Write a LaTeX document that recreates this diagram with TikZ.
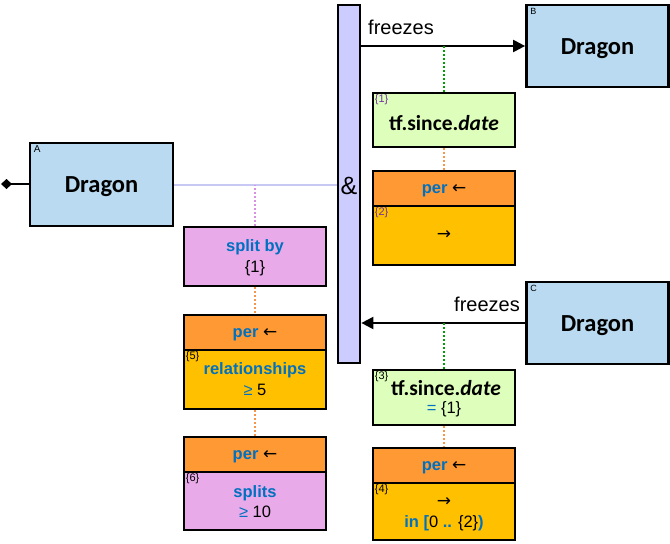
\documentclass[tikz,border=0pt]{standalone}
\usepackage{fontspec}
\setmainfont{Liberation Sans}
\newfontfamily\carl{Carlito}
\newfontfamily\djv{DejaVu Sans}
\usetikzlibrary{arrows.meta}
\definecolor{dblue}{HTML}{B9DAF0}
\definecolor{barc}{HTML}{CCCCFF}
\definecolor{pinkc}{HTML}{E8AAE8}
\definecolor{orangec}{HTML}{FF9933}
\definecolor{goldc}{HTML}{FFC000}
\definecolor{greenc}{HTML}{DDFFBB}
\definecolor{txtblue}{RGB}{0,112,192}
\definecolor{purp}{HTML}{7030A0}
\definecolor{lav}{HTML}{C8C8F4}
\definecolor{viol}{HTML}{D890E0}
\definecolor{gdot}{HTML}{00A000}
\definecolor{odot}{HTML}{F79646}
\newcommand\myla{{\djv\fontsize{17}{20}\selectfont ←}}
\newcommand\myra{{\djv\fontsize{17}{20}\selectfont →}}
\newcommand\lowr[2]{\raisebox{-#1}[\height][\depth]{#2}}
\tikzset{
  x=1pt,y=-1pt,
  box/.style={draw=black,line width=2.7pt,rectangle,inner sep=0pt,minimum width=142pt,align=center},
  dragon/.style={box,fill=dblue,minimum width=142pt,minimum height=82pt,font=\carl\bfseries\fontsize{24.5}{28}\selectfont},
  hdr/.style={box,fill=orangec,minimum height=35pt,font=\fontsize{16.5}{19}\selectfont},
  small/.style={anchor=north west,inner sep=0pt,font=\fontsize{10}{12}\selectfont},
  tx/.style={inner sep=0pt,font=\fontsize{16.5}{19}\selectfont},
  dotline/.style={line width=2pt,dash pattern=on 2pt off 2pt},
  arr/.style={line width=2pt,-{Triangle[length=12pt,width=12pt]}},
}
\begin{document}
\begin{tikzpicture}
\useasboundingbox (0,0) rectangle (670,544);
% bar
\node[box,fill=barc,minimum width=22pt,minimum height=358pt] (bar) at (349,184) {};
\node[inner sep=0pt,font=\fontsize{25}{28}\selectfont] (amp) at (349,186) {\&};
% dragons
\node[dragon,minimum width=143pt,minimum height=83pt] (A) at (101.5,184.5) {\lowr{2pt}{Dragon}};
\node[small] (Al) at ([xshift=5pt,yshift=-4pt]A.north west) {A};
\node[dragon] (B) at (597.5,46) {\lowr{3pt}{Dragon}};
\node[small,font=\fontsize{9}{11}\selectfont] (Bl) at ([xshift=5pt,yshift=-4pt]B.north west) {B};
\node[dragon] (C) at (597.5,323) {\lowr{3pt}{Dragon}};
\node[small,font=\fontsize{9}{11}\selectfont] (Cl) at ([xshift=5pt,yshift=-4pt]C.north west) {C};
% diamond on A
\coordinate (dm) at (1,184);
\draw[line width=2pt,{Diamond[length=11pt,width=10pt]}-] (dm) -- (A.west |- dm);
% left column
\node[box,fill=pinkc,minimum height=59pt] (split) at (255,256.5) {};
\node[tx,font=\bfseries\fontsize{16.5}{19}\selectfont,text=txtblue] (splitt) at ([yshift=9pt]split.center) {split by};
\node[tx] (split1) at ([yshift=-12pt]split.center) {\{1\}};
\node[hdr] (pl1) at (255,332.5) {\lowr{2pt}{\textbf{\color{txtblue}per} \myla}};
\node[box,fill=goldc,minimum height=59pt] (ll1) at (255,379.5) {};
\node[tx,font=\bfseries\fontsize{16.5}{19}\selectfont,text=txtblue] (ll1a) at ([yshift=9.5pt]ll1.center) {relationships};
\node[tx] (ll1b) at ([yshift=-10.5pt]ll1.center) {{\color{txtblue}≥} 5};
\node[small,font=\fontsize{11}{12}\selectfont] (l5) at ([xshift=3pt,yshift=-3pt]ll1.north west) {\{5\}};
\node[hdr] (pl2) at (255,454.5) {\lowr{2pt}{\textbf{\color{txtblue}per} \myla}};
\node[box,fill=pinkc,minimum height=58pt] (ll2) at (255,501) {};
\node[tx,font=\bfseries\fontsize{16.5}{19}\selectfont,text=txtblue] (ll2a) at ([yshift=8pt]ll2.center) {splits};
\node[tx] (ll2b) at ([yshift=-10.5pt]ll2.center) {{\color{txtblue}≥} 10};
\node[small,font=\fontsize{11}{12}\selectfont] (l6) at ([xshift=3pt,yshift=-3pt]ll2.north west) {\{6\}};
% right column top
\node[box,fill=greenc,minimum height=54pt,font=\carl\bfseries\fontsize{21.5}{24}\selectfont] (tf1) at (444,120) {\lowr{3pt}{tf.since.\textit{date}}};
\node[small,text=purp,font=\fontsize{11}{12}\selectfont] (l1) at ([xshift=3pt,yshift=-3pt]tf1.north west) {\{1\}};
\node[hdr] (pr1) at (444,188.5) {\lowr{2pt}{\textbf{\color{txtblue}per} \myla}};
\node[box,fill=goldc,minimum height=59pt] (lr1) at (444,235.5) {\myra};
\node[small,text=purp,font=\fontsize{11}{12}\selectfont] (l2) at ([xshift=3pt,yshift=-3pt]lr1.north west) {\{2\}};
% right column bottom
\node[box,fill=greenc,minimum height=55pt] (tf2) at (444,397.5) {};
\node[tx,font=\carl\bfseries\fontsize{21.5}{24}\selectfont] (tf2a) at ([yshift=9.5pt,xshift=2pt]tf2.center) {tf.since.\textit{date}};
\node[tx] (tf2b) at ([yshift=-12pt]tf2.center) {{\color{txtblue}=} \{1\}};
\node[small,font=\fontsize{11}{12}\selectfont] (l3) at ([xshift=3pt,yshift=-3pt]tf2.north west) {\{3\}};
\node[hdr] (pr2) at (444,465.5) {\lowr{2pt}{\textbf{\color{txtblue}per} \myla}};
\node[box,fill=goldc,minimum height=57pt] (lr2) at (444,511.5) {};
\node[tx] (lr2a) at ([yshift=9.5pt]lr2.center) {\myra};
\node[tx] (lr2b) at ([yshift=-11.5pt]lr2.center) {\textbf{\color{txtblue}in [}0 \textbf{\color{txtblue}..} \{2\}\textbf{\color{txtblue})}};
\node[small,font=\fontsize{11}{12}\selectfont] (l4) at ([xshift=3pt,yshift=-3pt]lr2.north west) {\{4\}};
% connectors
\draw[lav,line width=2pt] (A.east) -- (A.east -| bar.west);
\draw[viol,dotline] (split.north) -- (split.north |- A.east);
\draw[odot,dotline] (split.south) -- (pl1.north);
\draw[odot,dotline] (ll1.south) -- (pl2.north);
\draw[arr] (bar.east |- B.west) -- (B.west);
\node[inner sep=0pt,font=\fontsize{20}{23}\selectfont] (fz1) at (401,27) {freezes};
\draw[gdot,dotline] (tf1.north) -- (tf1.north |- B.west);
\draw[odot,dotline] (tf1.south) -- (pr1.north);
\draw[arr] (C.west) -- (C.west -| bar.east);
\node[inner sep=0pt,font=\fontsize{20}{23}\selectfont] (fz2) at (487,304) {freezes};
\draw[gdot,dotline] (tf2.north) -- (tf2.north |- C.west);
\draw[odot,dotline] (tf2.south) -- (pr2.north);
\end{tikzpicture}
\end{document}
